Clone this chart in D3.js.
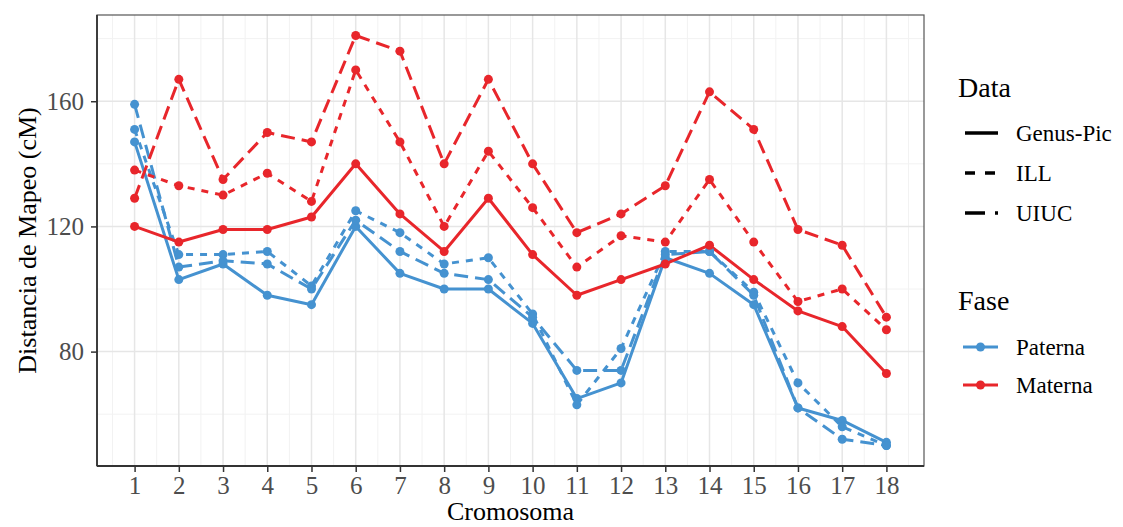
<!DOCTYPE html>
<html>
<head>
<meta charset="utf-8">
<script src="https://cdn.jsdelivr.net/npm/d3@7"></script>
<style>
  html, body { margin: 0; padding: 0; background: #fff; }
  svg { display: block; }
  text { font-family: "Liberation Serif", "Times New Roman", serif; }
</style>
</head>
<body>
<svg id="chart" width="1123" height="527"></svg>
<script>
// ---- data ----
const chromosomes = [1,2,3,4,5,6,7,8,9,10,11,12,13,14,15,16,17,18];
const dataTypes = ["Genus-Pic", "ILL", "UIUC"];
const phases = ["Paterna", "Materna"];

const paternaGenusPic = [147,103,108, 98, 95,120,105,100,100, 89, 65, 70,110,105, 95, 62, 58, 51];
const paternaILL      = [151,111,111,112,101,125,118,108,110, 92, 63, 81,112,112, 99, 70, 56, 50];
const paternaUIUC     = [159,107,109,108,100,122,112,105,103, 91, 74, 74,111,112, 98, 62, 52, 50];

const maternaGenusPic = [120,115,119,119,123,140,124,112,129,111, 98,103,108,114,103, 93, 88, 73];
const maternaILL      = [138,133,130,137,128,170,147,120,144,126,107,117,115,135,115, 96,100, 87];
const maternaUIUC     = [129,167,135,150,147,181,176,140,167,140,118,124,133,163,151,119,114, 91];

const yTicks = [80, 120, 160];
const yMinor = [60, 100, 140, 180];

// ---- series table ----
const series = [
  {fase:"Paterna", data:"Genus-Pic", values:paternaGenusPic},
  {fase:"Paterna", data:"ILL",       values:paternaILL},
  {fase:"Paterna", data:"UIUC",      values:paternaUIUC},
  {fase:"Materna", data:"Genus-Pic", values:maternaGenusPic},
  {fase:"Materna", data:"ILL",       values:maternaILL},
  {fase:"Materna", data:"UIUC",      values:maternaUIUC}
];

const colors = {Paterna:"#4592D0", Materna:"#E8262B"};
const dashes = {"Genus-Pic":null, "ILL":"7,7", "UIUC":"14,7"};
const keyDashes = {"Genus-Pic":null, "ILL":"10,10", "UIUC":"20,10"};

// ---- layout ----
const panel = {left:97, right:924, top:15, bottom:466};
const svg = d3.select("#chart");

const xr = d3.extent(chromosomes);
const xpad = (xr[1]-xr[0])*0.05;
const x = d3.scaleLinear().domain([xr[0]-xpad, xr[1]+xpad]).range([panel.left, panel.right]);

const allVals = series.flatMap(s => s.values);
const yr = d3.extent(allVals);
const ypad = (yr[1]-yr[0])*0.05;
const y = d3.scaleLinear().domain([yr[0]-ypad, yr[1]+ypad]).range([panel.bottom, panel.top]);

// grid
const g = svg.append("g");
const xMinor = d3.range(0.5, 19, 1).filter(v => v > x.domain()[0] && v < x.domain()[1]);
g.selectAll(".xminor").data(xMinor).join("line")
  .attr("x1", d=>x(d)).attr("x2", d=>x(d)).attr("y1", panel.top).attr("y2", panel.bottom)
  .attr("stroke", "#f2f2f2").attr("stroke-width", 1);
g.selectAll(".yminor").data(yMinor.filter(v => v > y.domain()[0] && v < y.domain()[1])).join("line")
  .attr("x1", panel.left).attr("x2", panel.right).attr("y1", d=>y(d)).attr("y2", d=>y(d))
  .attr("stroke", "#f2f2f2").attr("stroke-width", 1);
g.selectAll(".xmajor").data(chromosomes).join("line")
  .attr("x1", d=>x(d)).attr("x2", d=>x(d)).attr("y1", panel.top).attr("y2", panel.bottom)
  .attr("stroke", "#e6e6e6").attr("stroke-width", 1.5);
g.selectAll(".ymajor").data(yTicks).join("line")
  .attr("x1", panel.left).attr("x2", panel.right).attr("y1", d=>y(d)).attr("y2", d=>y(d))
  .attr("stroke", "#e6e6e6").attr("stroke-width", 1.5);

// lines
const line = d3.line().x((d,i)=>x(chromosomes[i])).y(d=>y(d));
svg.append("g").selectAll("path").data(series).join("path")
  .attr("d", d=>line(d.values))
  .attr("fill", "none")
  .attr("stroke", d=>colors[d.fase])
  .attr("stroke-width", 3)
  .attr("stroke-dasharray", d=>dashes[d.data])
  .attr("stroke-linejoin", "round");

// points
const pts = series.flatMap(s => s.values.map((v,i)=>({fase:s.fase, c:chromosomes[i], v})));
svg.append("g").selectAll("circle").data(pts).join("circle")
  .attr("cx", d=>x(d.c)).attr("cy", d=>y(d.v)).attr("r", 4.5)
  .attr("fill", d=>colors[d.fase]);

// panel border
svg.append("rect").attr("x", panel.left).attr("y", panel.top)
  .attr("width", panel.right-panel.left).attr("height", panel.bottom-panel.top)
  .attr("fill", "none").attr("stroke", "#555").attr("stroke-width", 1.2);
// axis lines (darker)
svg.append("line").attr("x1", panel.left).attr("x2", panel.right).attr("y1", panel.bottom).attr("y2", panel.bottom)
  .attr("stroke", "#333").attr("stroke-width", 1.8);
svg.append("line").attr("x1", panel.left).attr("x2", panel.left).attr("y1", panel.top).attr("y2", panel.bottom)
  .attr("stroke", "#333").attr("stroke-width", 1.8);

// axes
const xAxis = d3.axisBottom(x).tickValues(chromosomes).tickSize(6).tickPadding(4).tickFormat(d3.format("d"));
const xg = svg.append("g").attr("transform", `translate(0,${panel.bottom})`).call(xAxis);
const yAxis = d3.axisLeft(y).tickValues(yTicks).tickSize(6).tickPadding(7).tickFormat(d3.format("d"));
const yg = svg.append("g").attr("transform", `translate(${panel.left},0)`).call(yAxis);
[xg, yg].forEach(a => {
  a.select(".domain").remove();
  a.selectAll(".tick line").attr("stroke", "#333").attr("stroke-width", 1.5);
  a.selectAll(".tick text").attr("fill", "#4d4d4d").style("font-size", "25px")
    .style("font-family", "'Liberation Serif', serif");
});

// axis titles
svg.append("text").attr("x", (panel.left+panel.right)/2).attr("y", 520)
  .attr("text-anchor", "middle").style("font-size", "26px").text("Cromosoma");
svg.append("text").attr("transform", `translate(36,${(panel.top+panel.bottom)/2}) rotate(-90)`)
  .attr("text-anchor", "middle").style("font-size", "26px").text("Distancia de Mapeo (cM)");

// legend: Data
const lg = svg.append("g");
lg.append("text").attr("x", 958).attr("y", 97).style("font-size", "28px").text("Data");
const dataKeyY = [133, 173, 213];
dataTypes.forEach((t,i) => {
  lg.append("line").attr("x1", 965).attr("x2", 998).attr("y1", dataKeyY[i]).attr("y2", dataKeyY[i])
    .attr("stroke", "#000").attr("stroke-width", 3.3).attr("stroke-dasharray", keyDashes[t]);
  lg.append("text").attr("x", 1016).attr("y", dataKeyY[i]).attr("dy", "0.35em")
    .style("font-size", "23px").text(t);
});
// legend: Fase
lg.append("text").attr("x", 958).attr("y", 310).style("font-size", "28px").text("Fase");
const faseKeyY = [347, 385];
phases.forEach((p,i) => {
  lg.append("line").attr("x1", 963).attr("x2", 998).attr("y1", faseKeyY[i]).attr("y2", faseKeyY[i])
    .attr("stroke", colors[p]).attr("stroke-width", 3);
  lg.append("circle").attr("cx", 980.5).attr("cy", faseKeyY[i]).attr("r", 4.5).attr("fill", colors[p]);
  lg.append("text").attr("x", 1016).attr("y", faseKeyY[i]).attr("dy", "0.35em")
    .style("font-size", "23px").text(p);
});
</script>
</body>
</html>
